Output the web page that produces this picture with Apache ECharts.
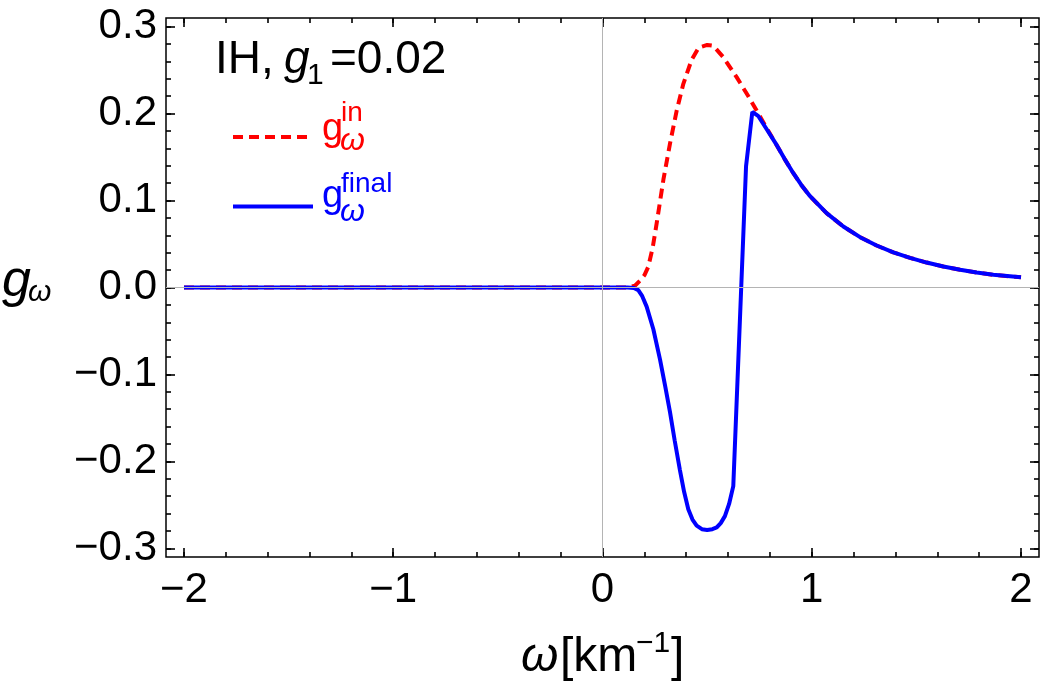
<!DOCTYPE html>
<html>
<head>
<meta charset="utf-8">
<script src="https://cdn.jsdelivr.net/npm/echarts@6/dist/echarts.min.js"></script>
<style>
  html, body { margin: 0; padding: 0; background: #fff; }
  #chart { width: 1042px; height: 688px; }
</style>
</head>
<body>
<div id="chart"></div>
<script>
// g_omega^in (red dashed)
const omegaIn = [-2, 0.12, 0.155, 0.18, 0.2, 0.219, 0.24, 0.259, 0.291, 0.323, 0.355, 0.386, 0.426, 0.46, 0.5, 0.53, 0.577, 0.641, 0.697, 0.745,
  0.79, 0.832, 0.87, 0.912, 0.95, 0.992, 1.071, 1.151, 1.231, 1.31, 1.39, 1.47, 1.549, 1.629, 1.709, 1.788, 1.868, 2]
const gIn = [0, 0, 0.002, 0.008, 0.014, 0.024, 0.046, 0.074, 0.124, 0.166, 0.204, 0.234, 0.262, 0.276, 0.279, 0.278, 0.265, 0.242, 0.22, 0.2,
  0.181, 0.164, 0.148, 0.1315, 0.118, 0.105, 0.0855, 0.0702, 0.0579, 0.0483, 0.0403, 0.0341, 0.0287, 0.0241, 0.0204, 0.0172, 0.0146, 0.0117]

// g_omega^final (blue solid)
const omegaFinal = [-2, 0.12, 0.15, 0.171, 0.19, 0.211, 0.243, 0.275, 0.3, 0.323, 0.345, 0.37, 0.39, 0.41, 0.43, 0.45, 0.475, 0.5, 0.525, 0.546,
  0.565, 0.585, 0.605, 0.625, 0.686, 0.716, 0.745, 0.79, 0.832, 0.87, 0.912, 0.95, 0.992, 1.071, 1.151, 1.231, 1.31, 1.39, 1.47, 1.549, 1.629,
  1.709, 1.788, 1.868, 2]
const gFinal = [0, 0, -0.0005, -0.003, -0.01, -0.022, -0.048, -0.083, -0.114, -0.144, -0.176, -0.21, -0.235, -0.255, -0.267, -0.274, -0.278, -0.279, -0.278, -0.276,
  -0.271, -0.263, -0.249, -0.2285, 0.1395, 0.202, 0.197, 0.18, 0.164, 0.148, 0.1315, 0.118, 0.105, 0.0855, 0.0702, 0.0579, 0.0483, 0.0403, 0.0341, 0.0287, 0.0241,
  0.0204, 0.0172, 0.0146, 0.0117]

const xTickValues = [-2, -1, 0, 1, 2]
const xTickLabels = ['\u22122', '\u22121', '0', '1', '2']
const yTickValues = [-0.3, -0.2, -0.1, 0, 0.1, 0.2, 0.3]
const yTickLabels = ['\u22120.3', '\u22120.2', '\u22120.1', '0.0', '0.1', '0.2', '0.3']

const FONT = '"Liberation Sans", Arial, Helvetica, sans-serif'

const steps = (from, to, n) => {
  const out = []
  for (let i = 0; i <= n; i++) out.push(+(from + (to - from) * i / n).toFixed(4))
  return out
}
const xMinor = steps(-2, 2, 20)
const yMinor = steps(-0.3, 0.3, 30)

const pickLabel = (values, labels) => v => {
  const i = values.findIndex(t => Math.abs(t - v) < 1e-6)
  return i < 0 ? '' : labels[i]
}

const xRange = { min: -2.086, max: 2.086 }
const yRange = { min: -0.31, max: 0.31 }

const tickStyle = { color: '#000', width: 1.6 }

const xAxisDef = (pos, ticks, len, withLabel) => ({
  type: 'value', position: pos, ...xRange,
  axisLine: { show: false, onZero: false },
  splitLine: { show: false },
  axisTick: { show: true, inside: true, length: len, lineStyle: tickStyle, customValues: ticks },
  axisLabel: withLabel ? {
    show: true, customValues: xTickValues, formatter: pickLabel(xTickValues, xTickLabels),
    color: '#000', fontSize: 42, fontFamily: FONT, margin: 12
  } : { show: false }
})

const yAxisDef = (pos, ticks, len, withLabel) => ({
  type: 'value', position: pos, ...yRange,
  axisLine: { show: false, onZero: false },
  splitLine: { show: false },
  axisTick: { show: true, inside: true, length: len, lineStyle: tickStyle, customValues: ticks },
  axisLabel: withLabel ? {
    show: true, customValues: yTickValues, formatter: pickLabel(yTickValues, yTickLabels),
    color: '#000', fontSize: 42, fontFamily: FONT, margin: 9
  } : { show: false }
})

const txt = (text, x, y, size, color, italic) => ({
  type: 'text', x, y, z: 10,
  style: {
    text, fill: color,
    font: (italic ? 'italic ' : '') + size + 'px ' + FONT,
    textAlign: 'left', textVerticalAlign: 'middle'
  }
})

const chart = echarts.init(document.getElementById('chart'))

chart.setOption({
  animation: false,
  backgroundColor: '#fff',
  grid: {
    left: 166, right: 3, top: 18, bottom: 131,
    show: true, borderColor: '#000', borderWidth: 1.5, backgroundColor: 'transparent'
  },
  xAxis: [
    xAxisDef('bottom', xTickValues, 9, true),
    xAxisDef('bottom', xMinor, 5, false),
    xAxisDef('top', xTickValues, 9, false),
    xAxisDef('top', xMinor, 5, false)
  ],
  yAxis: [
    yAxisDef('left', yTickValues, 9, true),
    yAxisDef('left', yMinor, 5, false),
    yAxisDef('right', yTickValues, 9, false),
    yAxisDef('right', yMinor, 5, false)
  ],
  legend: {
    orient: 'vertical',
    left: 226, top: 125,
    itemWidth: 80, itemHeight: 14, itemGap: 57,
    formatter: () => '',
    selectedMode: false,
    itemStyle: { opacity: 0 },
    lineStyle: { width: 4 },
    data: ['gin', 'gfinal']
  },
  series: [
    {
      name: 'gin',
      type: 'line',
      z: 2,
      symbol: 'none',
      lineStyle: { color: '#ff0000', width: 4, type: [10, 6] },
      itemStyle: { color: '#ff0000' },
      data: omegaIn.map((w, i) => [w, gIn[i]]),
      markLine: {
        silent: true,
        symbol: ['none', 'none'],
        label: { show: false },
        lineStyle: { color: '#b4b4b4', width: 1, type: 'solid' },
        data: [{ yAxis: 0 }, { xAxis: 0 }]
      }
    },
    {
      name: 'gfinal',
      type: 'line',
      z: 3,
      symbol: 'none',
      lineStyle: { color: '#0000ff', width: 4 },
      itemStyle: { color: '#0000ff' },
      data: omegaFinal.map((w, i) => [w, gFinal[i]])
    }
  ],
  graphic: [
    // annotation  IH, g1=0.02
    txt('IH,', 215, 60, 46, '#000', false),
    txt('g', 284, 60, 46, '#000', true),
    txt('1', 307, 76, 30, '#000', false),
    txt('=0.02', 330, 60, 46, '#000', false),
    // legend labels
    txt('g', 322, 130, 38, '#ff0000', false),
    txt('in', 341, 113, 28, '#ff0000', false),
    txt('\u03c9', 340, 141, 32, '#ff0000', true),
    txt('g', 322, 197, 38, '#0000ff', false),
    txt('final', 341, 184, 28, '#0000ff', false),
    txt('\u03c9', 340, 212, 32, '#0000ff', true),
    // y axis name
    txt('g', 2, 282, 52, '#000', true),
    txt('\u03c9', 28, 293, 30, '#000', true),
    // x axis name
    txt('\u03c9', 521, 658, 48, '#000', true),
    txt('[km', 560, 658, 48, '#000', false),
    txt('\u22121', 636, 644, 30, '#000', false),
    txt(']', 671, 658, 48, '#000', false)
  ]
})
</script>
</body>
</html>
